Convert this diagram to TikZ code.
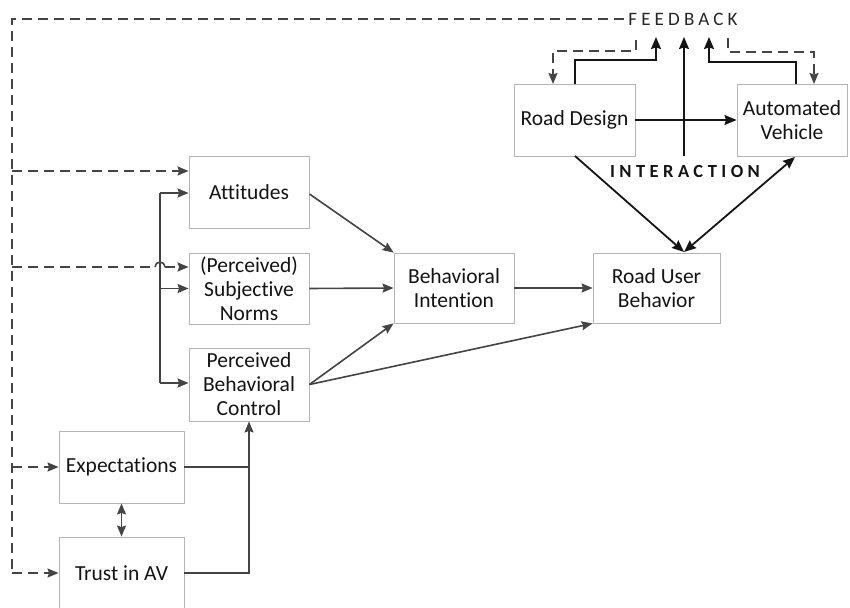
\documentclass[tikz,border=0pt]{standalone}
\usepackage{fontspec}
\setmainfont{Carlito}[Ligatures=NoCommon]
\newfontfamily\fbfont[LetterSpace=22,Ligatures=NoCommon]{Carlito}
\newfontfamily\interfont[LetterSpace=24,Ligatures=NoCommon]{Carlito}
\usetikzlibrary{arrows.meta,calc}
\definecolor{boxgray}{HTML}{B4B4B4}
\definecolor{linegray}{HTML}{444444}
\definecolor{topblack}{HTML}{151515}
\tikzset{
  box/.style={draw=boxgray,line width=0.9pt,align=center,inner sep=2pt,
    font=\fontsize{21.5}{24}\selectfont,text=black!92},
  conn/.style={draw=linegray,line width=1.6pt},
  arr/.style={conn,-{Stealth[length=11pt,width=9pt,inset=1.5pt]}},
  dashline/.style={conn,dash pattern=on 10pt off 6pt},
  dasharr/.style={dashline,-{Stealth[length=11pt,width=9pt,inset=1.5pt]}},
  topline/.style={draw=topblack,line width=1.8pt},
  toparr/.style={topline,-{Stealth[length=12pt,width=10pt,inset=1.5pt]}},
  topdbl/.style={topline,{Stealth[length=12pt,width=10pt,inset=1.5pt]}-{Stealth[length=12pt,width=10pt,inset=1.5pt]}},
  dblarr/.style={conn,{Stealth[length=11pt,width=9pt,inset=1.5pt]}-{Stealth[length=11pt,width=9pt,inset=1.5pt]}}
}
\begin{document}
\begin{tikzpicture}[x=1pt,y=-1pt]
\clip (0,0) rectangle (850,607);
\fill[white] (0,0) rectangle (850,607);

% nodes
\node[box,minimum width=120pt,minimum height=72pt] (att) at (249,192) {Attitudes};
\node[box,minimum width=120pt,minimum height=71pt] (sn) at (249,288.5) {(Perceived)\\Subjective\\Norms};
\node[box,minimum width=120pt,minimum height=73pt] (pbc) at (249,384.5) {Perceived\\Behavioral\\Control};
\node[box,minimum width=120pt,minimum height=70pt] (bi) at (454,288) {Behavioral\\Intention};
\node[box,minimum width=127pt,minimum height=70pt] (rub) at (656.5,288) {Road User\\Behavior};
\node[box,minimum width=125pt,minimum height=72pt] (exp) at (121.5,467) {Expectations};
\node[box,minimum width=125pt,minimum height=72pt] (trust) at (121.5,573) {Trust in AV};
\node[box,minimum width=121pt,minimum height=72pt] (rd) at (574.5,120) {Road Design};
\node[box,minimum width=110pt,minimum height=72pt] (av) at (792,120) {Automated\\Vehicle};
\node[font=\fbfont\fontsize{19}{20}\selectfont,inner sep=4pt,text=black!85] (fb) at (683,19) {FEEDBACK};
\node[font=\interfont\bfseries\fontsize{18.5}{20}\selectfont,inner sep=1pt,text=black!92] (inter) at (685,171) {INTERACTION};

% coordinates
\coordinate (fbL) at (12,19);
\coordinate (d1) at (12,171);
\coordinate (d2) at (12,267);
\coordinate (d3) at (12,467);
\coordinate (d4) at (12,573);
\coordinate (bt) at (160,193);
\coordinate (bb) at (160,383);
\coordinate (hopl) at (155,267);
\coordinate (hopr) at (165,267);
\coordinate (rubtop) at (684,252);
\coordinate (ivb) at (684,156);
\coordinate (ivt) at (684,37);
\coordinate (rdup) at (656,37);
\coordinate (avup) at (709,37);
\coordinate (rdfb) at (636,40);
\coordinate (avfb) at (728,38);
\coordinate (rdin) at (553,84);
\coordinate (avin) at (814,84);
\coordinate (rdout) at (575,84);
\coordinate (avout) at (796,84);
\coordinate (rdbot) at (575,156);
\coordinate (avbot) at (795,157);

% feedback loop
\draw[dashline] (fb.west) -- (fbL) -- (d4);
\draw[dasharr] (d1) -- (d1 -| att.west);
\draw[dashline] (d2) -- (hopl);
\draw[conn] (hopl) arc (180:360:5);
\draw[dasharr] (hopr) -- (d2 -| sn.west);
\draw[dasharr] (d3) -- (exp.west);
\draw[dasharr] (d4) -- (trust.west);

% branch
\draw[conn] (bt) -- (bb);
\draw[arr] (bt) -- (bt -| att.west);
\draw[arr] (bt |- sn.west) -- (sn.west);
\draw[arr] (bb) -- (bb -| pbc.west);

% TPB arrows
\draw[arr] ($(att.east)+(0,2)$) -- (bi.north west);
\draw[arr] (sn.east) -- (bi.west);
\draw[arr] (pbc.east) -- (bi.south west);
\draw[arr] (pbc.east) -- (rub.south west);
\draw[arr] (bi.east) -- (rub.west);

% expectations / trust
\draw[dblarr] (exp.south) -- (trust.north);
\draw[conn] (exp.east) -- (exp.east -| pbc.south);
\draw[arr] (trust.east) -| (pbc.south);

% top interaction
\draw[toparr] (rd.east) -- (av.west);
\draw[toparr] (ivb) -- (ivt);
\draw[toparr] (rdout) -- (575,60) -| (rdup);
\draw[toparr] (avout) -- (796,62) -| (avup);
\draw[dasharr] (rdfb) |- (553,51) -- (rdin);
\draw[dasharr] (avfb) |- (814,52) -- (avin);
\draw[toparr] (rdbot) -- (rubtop);
\draw[topdbl] (rubtop) -- (avbot);
\end{tikzpicture}
\end{document}
